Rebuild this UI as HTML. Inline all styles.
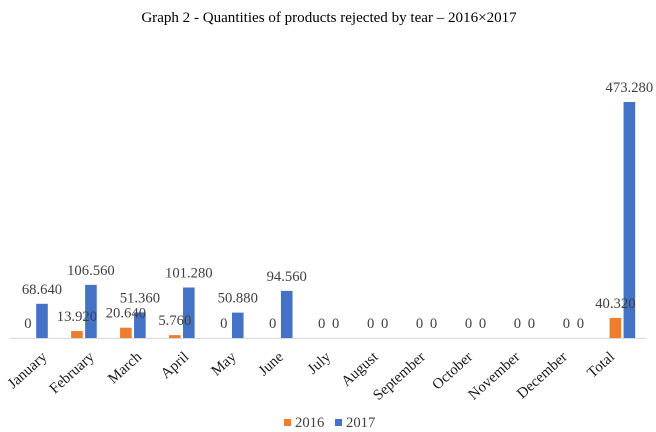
<!DOCTYPE html>
<html>
<head>
<meta charset="utf-8">
<style>
html,body{margin:0;padding:0;background:#fff;}
svg{display:block;font-family:"Liberation Serif",serif;}
</style>
</head>
<body>
<svg id="chart" width="656" height="432" viewBox="0 0 656 432" xmlns="http://www.w3.org/2000/svg">
<rect width="656" height="432" fill="#ffffff"/>
<text x="329" y="22" text-anchor="middle" font-size="15.05" fill="#000000">Graph 2 - Quantities of products rejected by tear – 2016×2017</text>
<g id="bars"></g>
<g id="labels"></g>
<line x1="10" x2="646" y1="338.5" y2="338.5" stroke="#d9d9d9" stroke-width="1"/>
<g id="xticks"></g>
<g>
<rect x="284" y="419" width="7" height="7" fill="#ed7d31"/>
<text x="295" y="427" font-size="14.67" fill="#404040">2016</text>
<rect x="335" y="419" width="7" height="7" fill="#4472c4"/>
<text x="346" y="427" font-size="14.67" fill="#404040">2017</text>
</g>
</svg>
<script>
const categories = ["January","February","March","April","May","June","July","August","September","October","November","December","Total"];
const series2016 = [0,13920,20640,5760,0,0,0,0,0,0,0,0,40320];
const series2017 = [68640,106560,51360,101280,50880,94560,0,0,0,0,0,0,473280];
const yMax = 473280;

const NS = "http://www.w3.org/2000/svg";
const baseY = 338;
const plotHeight = 236;
const axisLeft = 10.5;
const bandWidth = 48.95;
const barWidth = 11.6;
const barOffset = 7;
const tickStart = 47.7;
const tickStep = 47.3;

function xCenter(i){ return axisLeft + bandWidth * (i + 0.5); }
function xTick(i){ return tickStart + tickStep * i; }
function yPos(v){ return baseY - (v / yMax) * plotHeight; }
function fmt(v){
  if (v === 0) return "0";
  const s = String(v);
  return s.slice(0, s.length - 3) + "." + s.slice(-3);
}

const barsG = document.getElementById("bars");
const labelsG = document.getElementById("labels");
const ticksG = document.getElementById("xticks");

function drawSeries(values, color, sign, year){
  values.forEach(function(v, i){
    const cx = xCenter(i) + sign * barOffset;
    if (v > 0) {
      const r = document.createElementNS(NS, "rect");
      
      
      r.setAttribute("x", cx - barWidth / 2);
      r.setAttribute("y", yPos(v));
      r.setAttribute("width", barWidth);
      r.setAttribute("height", baseY - yPos(v));
      r.setAttribute("fill", color);
      barsG.appendChild(r);
    }
    const t = document.createElementNS(NS, "text");
    
    
    t.setAttribute("x", cx);
    t.setAttribute("y", yPos(v) - 10);
    t.setAttribute("text-anchor", "middle");
    t.setAttribute("font-size", "14.67");
    t.setAttribute("fill", "#404040");
    t.textContent = fmt(v);
    labelsG.appendChild(t);
  });
}
drawSeries(series2016, "#ed7d31", -1, "2016");
drawSeries(series2017, "#4472c4", 1, "2017");

categories.forEach(function(c, i){
  const t = document.createElementNS(NS, "text");
  
  
  const x = xTick(i);
  const y = 358;
  t.setAttribute("x", x);
  t.setAttribute("y", y);
  t.setAttribute("text-anchor", "end");
  t.setAttribute("font-size", "15");
  t.setAttribute("fill", "#1a1a1a");
  t.setAttribute("transform", "rotate(-42 " + x + " " + y + ")");
  t.textContent = c;
  ticksG.appendChild(t);
});
</script>
</body>
</html>
